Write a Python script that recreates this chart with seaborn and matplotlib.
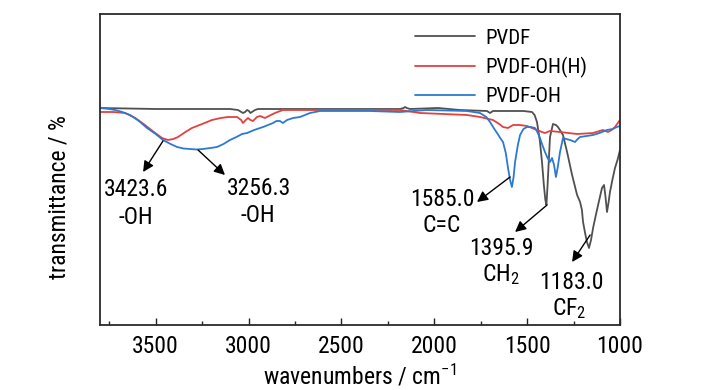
import numpy as np
import pandas as pd
import matplotlib
matplotlib.use("Agg")
import matplotlib.pyplot as plt
from matplotlib.ticker import MultipleLocator
import seaborn as sns

# ---------------- data ----------------
pvdf_wn = [3800, 3500, 3262, 3100, 3057, 3030, 3019, 3008, 2998, 2990, 2982, 2965,
           2949, 2723, 2454, 2185, 2165, 2158, 2148, 2131,
           1980, 1862, 1716, 1700, 1684, 1520, 1474, 1460, 1447, 1432, 1420, 1410,
           1402, 1396, 1390, 1377, 1361, 1345, 1334, 1320, 1307, 1285, 1258, 1231,
           1215, 1205, 1199, 1188, 1178, 1167, 1156, 1145, 1130, 1118, 1097,
           1086, 1078, 1070, 1062, 1054, 1040, 1027, 1012, 1000]
pvdf_t = [217, 216, 216, 216, 215, 212, 213, 215, 214, 212, 213, 215,
          216, 216, 216, 216, 217, 218, 217, 216,
          217, 215, 214, 212, 214, 214, 213, 210, 203, 185, 163, 140,
          125, 120, 140, 188, 201, 200, 198, 194, 190, 173, 150, 130,
          123, 115, 103, 92, 83, 77, 85, 97, 110, 120, 137,
          140, 128, 113, 122, 133, 146, 157, 166, 175]

pvdfoh_wn = [3800, 3750, 3719, 3680, 3638, 3590, 3547, 3500, 3461, 3420, 3385, 3350,
             3315, 3280, 3245, 3205, 3170, 3135, 3100, 3065, 3035, 3008,
             2970, 2922, 2868, 2850, 2831, 2815, 2793, 2760, 2723, 2669, 2615, 2500,
             2346, 2185, 2039, 1824,
             1754, 1720, 1700, 1680, 1662, 1645, 1630, 1615, 1603, 1592, 1582, 1573,
             1565, 1550, 1538, 1520, 1501, 1480, 1458, 1445, 1431, 1418, 1404, 1390,
             1377, 1366, 1355, 1345, 1335, 1323, 1307, 1290, 1269, 1242, 1228, 1215,
             1180, 1145, 1110, 1070, 1040, 1016, 1000]
pvdfoh_t = [217, 216, 215, 213, 210, 204, 197, 191, 185, 181, 178, 176.5,
            176, 175.5, 176, 177, 178, 181, 185, 188, 191, 192,
            195, 198, 202, 204, 204, 202, 205, 207, 208, 212, 214, 214,
            214, 213, 215, 214,
            212, 208, 203, 197, 192, 187, 183, 172, 157, 145, 138, 148,
            163, 180, 190, 196, 198, 198, 197, 193, 187, 180, 173, 167,
            163, 167, 160, 148, 158, 173, 187, 186, 185, 183, 186, 188,
            189, 190, 192, 195, 196, 198, 199]

pvdfohh_wn = [3800, 3730, 3665, 3610, 3558, 3510, 3466, 3434, 3405, 3380, 3340, 3305,
              3250, 3197, 3150, 3111, 3062, 3040, 3030, 3015, 3003,
              2990, 2976, 2955, 2938, 2912, 2880, 2858, 2815, 2500, 2185, 2077, 1824,
              1754, 1684, 1650, 1630, 1603, 1576, 1540, 1501, 1447, 1420, 1404, 1377,
              1323, 1231, 1145, 1092, 1065, 1045, 1027, 1000]
pvdfohh_t = [213, 213, 212, 207, 200, 193, 187, 185, 186, 188, 193, 197,
             201, 205, 207, 208, 208, 205, 202, 205, 207,
             205, 204, 208, 209, 207, 210, 212, 215, 215, 215, 212, 210,
             208, 205, 201, 198, 197, 200, 200, 199, 195, 193, 192, 194,
             193, 191, 192, 195, 193, 195, 198, 205]

series_names = ["PVDF", "PVDF-OH(H)", "PVDF-OH"]
series_colors = ["#505050", "#e5403d", "#2c79d4"]

# peak annotations: label lines, arrow start (on curve) and arrow tip
peak_values = ["3423.6", "3256.3", "1585.0", "1395.9", "1183.0"]
peak_groups = ["-OH", "-OH", "C=C", r"CH$_2$", r"CF$_2$"]
arrow_start = [(3461, 184), (3272, 175), (1592, 148), (1393, 120), (1161, 90)]
arrow_tip = [(3568, 153), (3127, 150), (1770, 123), (1565, 93), (1258, 63)]
value_pos = [(3606, 129), (2944, 130), (1958, 119), (1641, 70), (1264, 36)]
group_pos = [(3606, 101), (2949, 103), (1958, 93), (1641, 44), (1275, 10)]

xticks = [3500, 3000, 2500, 2000, 1500, 1000]

# ---------------- style ----------------
sns.set_style("white")
fam = ["Roboto Condensed", "Liberation Sans", "DejaVu Sans"]
plt.rcParams["font.family"] = fam
plt.rcParams["text.color"] = "black"
plt.rcParams["axes.labelcolor"] = "black"
plt.rcParams["xtick.color"] = "black"
plt.rcParams["mathtext.fontset"] = "custom"
plt.rcParams["mathtext.rm"] = "Roboto Condensed"
plt.rcParams["mathtext.it"] = "Roboto Condensed"
plt.rcParams["mathtext.bf"] = "Roboto Condensed"

fig = plt.figure(figsize=(7.28, 3.9), dpi=100)
ax = fig.add_axes([100 / 728, 1 - 325 / 390, 520 / 728, 311 / 390])

frames = [
    pd.DataFrame({"wn": pvdf_wn, "T": pvdf_t}),
    pd.DataFrame({"wn": pvdfohh_wn, "T": pvdfohh_t}),
    pd.DataFrame({"wn": pvdfoh_wn, "T": pvdfoh_t}),
]
for df, name, col in zip(frames, series_names, series_colors):
    sns.lineplot(data=df, x="wn", y="T", ax=ax, color=col, label=name,
                 lw=1.3, estimator=None, sort=True)

ax.set_xlim(3800, 1000)
ax.set_ylim(0, 311)
ax.set_xticks(xticks)
ax.xaxis.set_minor_locator(MultipleLocator(250))
ax.set_yticks([])
ax.tick_params(axis="x", which="major", direction="in", length=5, width=1,
               labelsize=17, pad=7, color="#222222", labelcolor="black",
               top=False, bottom=True)
ax.tick_params(axis="x", which="minor", direction="in", length=3, width=1,
               color="#222222", top=False, bottom=True)
for s in ax.spines.values():
    s.set_linewidth(1.3)
    s.set_color("#2a2a2a")

ax.set_xlabel(r"wavenumbers / cm$^{-1}$", fontsize=17, labelpad=4, color="black")
ax.set_ylabel("transmittance / %", fontsize=17, color="black")
ax.yaxis.set_label_coords(-0.056, 0.41)

leg = ax.legend(loc="upper left", bbox_to_anchor=(300 / 520, 1.0), frameon=False,
                fontsize=15, handlelength=2.9, handletextpad=0.5,
                labelspacing=0.45, borderaxespad=0.3)
for t in leg.get_texts():
    t.set_color("black")

for (v, g, st, tp, vp, gp) in zip(peak_values, peak_groups, arrow_start,
                                  arrow_tip, value_pos, group_pos):
    ax.annotate("", xy=tp, xytext=st,
                arrowprops=dict(arrowstyle="-|>", color="black", lw=1.0,
                                mutation_scale=16, shrinkA=0, shrinkB=0))
    ax.text(vp[0], vp[1], v, ha="center", va="baseline", fontsize=17, color="black")
    ax.text(gp[0], gp[1], g, ha="center", va="baseline", fontsize=17, color="black")

fig.savefig("out.png", dpi=100)
